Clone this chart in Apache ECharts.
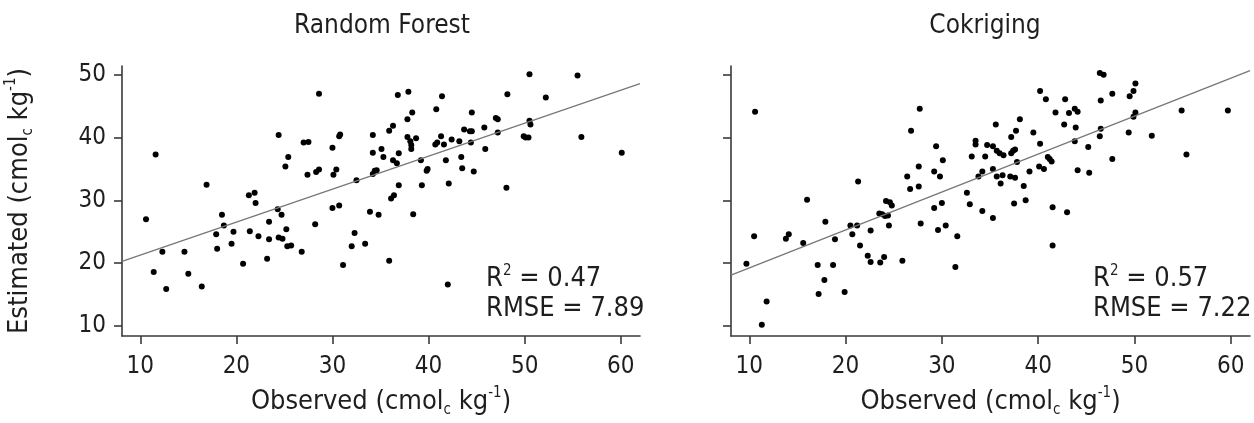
<!DOCTYPE html>
<html>
<head>
<meta charset="utf-8">
<script src="https://cdn.jsdelivr.net/npm/echarts@6/dist/echarts.min.js"></script>
<style>
  html, body { margin: 0; background: #fff; }
  #chart { width: 1254px; height: 423px; }
</style>
</head>
<body>
<div id="chart"></div>
<script>
// Random Forest: observed vs estimated
const rfObs = [28.6,11.6,24.4,30.8,30.7,34.2,30.0,27.0,27.5,25.4,25.1,34.2,16.9,27.4,28.3,28.6,30.1,30.4,34.2,34.4,34.6,32.5,21.3,21.9,22.0,10.6,18.5,18.7,17.9,19.7,19.5,18.0,12.3,14.6,11.4,15.0,12.7,16.4,20.7,23.2,24.3,24.7,23.4,25.2,21.4,22.3,23.4,24.4,24.8,25.3,25.7,26.8,28.2,30.0,30.7,31.1,32.0,32.3,33.4,33.9,34.8,
  50.5,55.5,36.8,37.9,41.4,48.2,52.2,40.8,38.3,44.5,37.8,36.3,35.9,47.0,47.2,45.8,43.7,44.3,44.5,47.2,50.5,50.6,49.9,50.1,50.4,55.9,60.1,37.8,38.7,38.1,38.2,38.2,41.3,40.7,40.9,41.6,42.4,43.2,44.4,45.9,35.1,35.3,36.9,36.3,36.7,39.2,41.8,43.4,43.5,44.7,39.9,39.8,36.9,39.3,42.1,48.1,36.4,36.1,38.4,35.9,42.0];
const rfEst = [47.0,37.3,40.4,40.5,40.2,40.4,38.4,39.2,39.3,36.9,35.4,37.6,32.5,34.1,34.5,34.9,34.1,34.9,34.2,34.7,34.8,33.2,30.8,31.2,29.6,27.0,27.7,26.0,24.6,25.0,23.1,22.3,21.8,21.8,18.6,18.3,15.9,16.3,19.9,20.7,28.6,27.7,26.6,25.4,25.1,24.3,23.8,24.1,23.9,22.7,22.8,21.8,26.2,28.8,29.2,19.7,22.7,24.8,23.1,28.2,27.7,
  50.1,49.9,46.8,47.3,46.6,46.9,46.4,44.5,44.0,44.0,42.9,41.9,41.1,43.1,42.9,41.6,41.3,41.0,41.0,40.8,42.7,42.1,40.2,40.0,40.0,40.1,37.6,40.1,39.9,39.4,38.8,38.2,40.2,38.9,39.2,38.9,39.7,39.4,39.2,38.2,38.2,36.9,37.5,36.4,35.9,36.4,36.4,36.9,35.1,34.6,35.0,34.7,32.4,32.4,32.7,32.0,30.8,30.3,27.8,20.4,16.6];

// Cokriging: observed vs estimated
const ckObs = [10.6,27.7,26.8,29.4,30.1,27.6,29.2,29.8,26.4,26.7,27.6,21.3,16.0,24.2,24.6,24.8,23.5,23.8,24.1,24.4,24.5,27.8,29.2,30.0,29.6,30.4,32.9,32.6,31.6,31.4,33.5,33.5,33.1,33.8,9.7,10.5,11.8,11.3,13.8,14.1,15.6,17.9,18.9,20.5,21.2,20.7,21.5,22.6,22.3,22.6,23.6,24.0,25.9,17.1,17.8,18.7,17.2,19.9,
  46.4,46.8,50.1,49.9,49.5,47.7,46.5,40.2,40.8,42.8,41.8,43.2,43.8,44.1,50.1,49.9,54.9,59.7,38.1,35.6,37.7,37.2,39.5,42.7,43.9,46.5,46.4,49.4,51.8,55.4,47.7,34.7,35.3,35.7,36.0,36.4,37.4,37.6,37.2,40.2,43.8,45.2,34.5,37.8,41.0,41.2,41.4,40.1,40.6,39.1,35.3,34.2,35.7,36.3,37.1,37.6,36.1,38.5,44.1,45.3,38.7,37.5,41.5,43.0,34.2,35.3,41.5];
const ckEst = [44.1,44.6,41.1,38.6,36.4,35.4,34.6,33.8,33.8,31.8,32.2,33.0,30.1,29.9,29.7,29.2,27.9,27.8,27.5,27.6,26.0,26.3,28.8,29.6,25.3,26.0,29.4,31.2,24.3,19.4,39.5,38.9,37.0,33.8,19.9,24.3,13.9,10.2,23.9,24.6,23.2,26.6,23.8,26.0,26.0,24.6,22.8,25.2,21.2,20.2,20.1,21.0,20.4,19.7,17.3,19.7,15.1,15.4,
  50.3,50.0,48.6,47.4,46.6,47.0,45.9,47.4,46.1,46.1,44.0,43.9,44.6,44.1,44.0,43.3,44.3,44.3,42.9,42.1,41.1,40.1,40.8,42.1,41.6,41.4,40.2,40.8,40.3,37.3,36.6,38.8,38.6,37.9,37.5,37.2,37.9,38.1,37.5,39.0,39.4,38.5,37.0,36.1,36.9,36.6,36.2,35.4,35.0,34.6,35.0,34.6,33.8,34.0,33.8,33.6,32.7,32.3,34.8,34.4,30.0,29.5,28.9,28.1,28.3,27.2,22.8];

// fitted lines: [intercept, slope]
const rfFit = [16.05, 0.525];
const ckFit = [13.2, 0.604];

const panelTitles = ['Random Forest', 'Cokriging'];
const statR2 = ['0.47', '0.57'];
const statRmse = ['7.89', '7.22'];
const xTicks = [10, 20, 30, 40, 50, 60];
const yTicks = [10, 20, 30, 40, 50];
const xRange = [8.1, 62];
const yRange = [8.4, 51.4];

const FONT = '"DejaVu Sans Condensed", "DejaVu Sans", sans-serif';
const AXIS_COLOR = '#3a3a3a';
const TEXT_COLOR = '#1e1e1e';
const unitRich = {
  sub: { fontSize: 15, fontFamily: FONT, color: TEXT_COLOR, verticalAlign: 'bottom' },
  sup: { fontSize: 15, fontFamily: FONT, color: TEXT_COLOR, verticalAlign: 'top' }
};
const unitText = '(cmol{sub|c} kg{sup|-1})';

const chart = echarts.init(document.getElementById('chart'));

function zip(xs, ys) {
  return xs.map((x, i) => [x, ys[i]]);
}
function fitLine(fit) {
  return xRange.map(x => [x, fit[0] + fit[1] * x]);
}

function makeX(idx) {
  return {
    type: 'value', gridIndex: idx, min: xRange[0], max: xRange[1],
    axisLine: { show: true, onZero: false, lineStyle: { color: AXIS_COLOR, width: 1.6 } },
    axisTick: { show: true, length: 8, customValues: xTicks, lineStyle: { color: AXIS_COLOR, width: 1.6 } },
    axisLabel: { customValues: xTicks, margin: 19, fontSize: 24, fontFamily: FONT, color: TEXT_COLOR },
    splitLine: { show: false },
    name: 'Observed ' + unitText,
    nameLocation: 'middle', nameGap: 50,
    nameTextStyle: { fontSize: 27, fontFamily: FONT, color: TEXT_COLOR, lineHeight: 32, rich: unitRich }
  };
}
function makeY(idx, withLabels) {
  const ax = {
    type: 'value', gridIndex: idx, min: yRange[0], max: yRange[1],
    axisLine: { show: true, onZero: false, lineStyle: { color: AXIS_COLOR, width: 1.6 } },
    axisTick: { show: true, length: 8, customValues: yTicks, lineStyle: { color: AXIS_COLOR, width: 1.6 } },
    axisLabel: { show: withLabels, customValues: yTicks, margin: 16, fontSize: 24, fontFamily: FONT, color: TEXT_COLOR },
    splitLine: { show: false }
  };
  if (withLabels) {
    ax.name = 'Estimated ' + unitText;
    ax.nameLocation = 'middle';
    ax.nameGap = 86;
    ax.nameTextStyle = { fontSize: 27, fontFamily: FONT, color: TEXT_COLOR, lineHeight: 32, rich: unitRich };
  }
  return ax;
}

const grids = [
  { left: 122, top: 66, width: 518, height: 272 },
  { left: 731, top: 66, width: 519, height: 272 }
];

const graphics = [];
const titleX = [382, 985];
const statX = [486, 1093];
panelTitles.forEach((t, i) => {
  graphics.push({
    type: 'text', x: titleX[i], y: 26,
    style: { text: t, fontSize: 26, fontFamily: FONT, fill: TEXT_COLOR, align: 'center', verticalAlign: 'middle' }
  });
  graphics.push({
    type: 'text', x: statX[i], y: 279,
    style: {
      text: 'R{sup|2} = ' + statR2[i], fontSize: 27, fontFamily: FONT, fill: TEXT_COLOR,
      align: 'left', verticalAlign: 'middle', lineHeight: 30,
      rich: { sup: { fontSize: 15, fontFamily: FONT, fill: TEXT_COLOR, verticalAlign: 'top' } }
    }
  });
  graphics.push({
    type: 'text', x: statX[i], y: 309,
    style: { text: 'RMSE = ' + statRmse[i], fontSize: 27, fontFamily: FONT, fill: TEXT_COLOR, align: 'left', verticalAlign: 'middle' }
  });
});

function scatter(idx, data) {
  return {
    type: 'scatter', xAxisIndex: idx, yAxisIndex: idx, data: data,
    symbolSize: 6, itemStyle: { color: '#000', opacity: 1 }, silent: true
  };
}
function line(idx, data) {
  return {
    type: 'line', xAxisIndex: idx, yAxisIndex: idx, data: data,
    showSymbol: false, lineStyle: { color: '#777', width: 1.3 }, silent: true
  };
}

chart.setOption({
  animation: false,
  grid: grids,
  xAxis: [makeX(0), makeX(1)],
  yAxis: [makeY(0, true), makeY(1, false)],
  graphic: graphics,
  series: [
    line(0, fitLine(rfFit)),
    scatter(0, zip(rfObs, rfEst)),
    line(1, fitLine(ckFit)),
    scatter(1, zip(ckObs, ckEst))
  ]
});
</script>
</body>
</html>
